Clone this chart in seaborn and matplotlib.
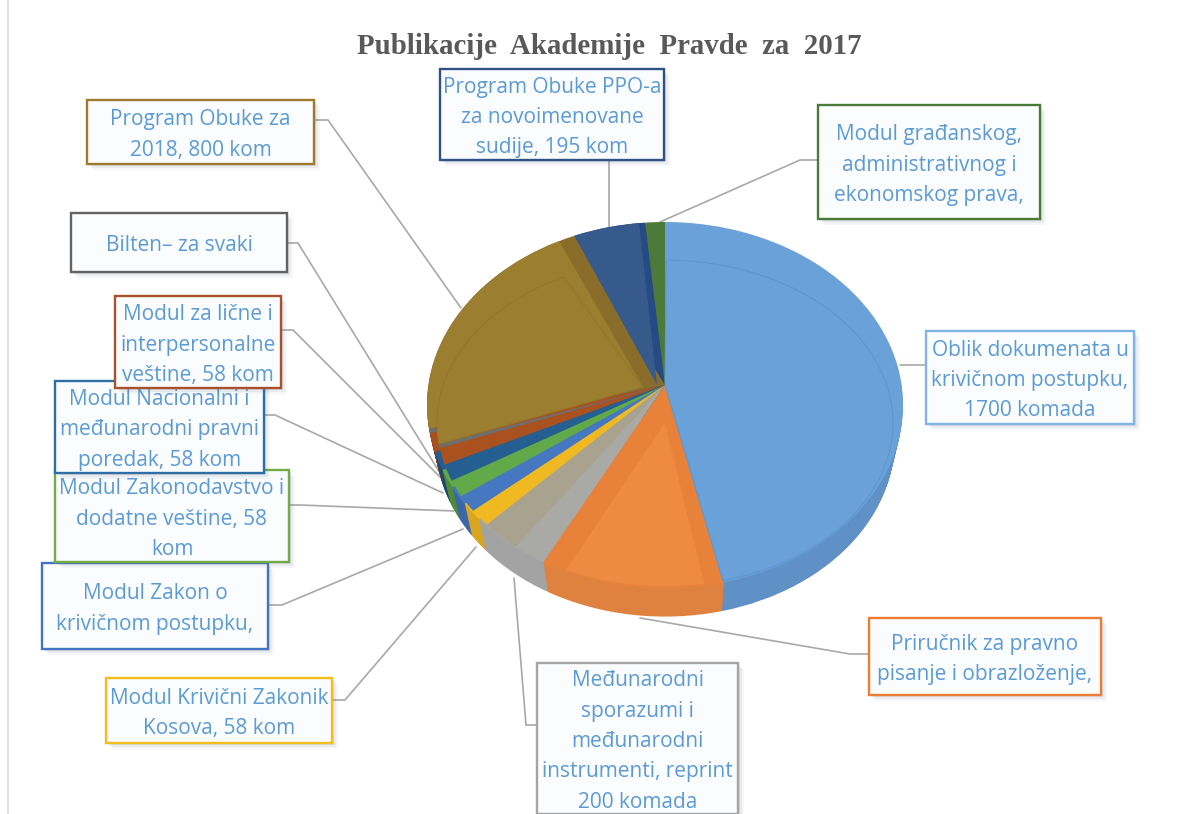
import numpy as np
import matplotlib.pyplot as plt
from matplotlib.patches import Rectangle
import seaborn as sns

title = "Publikacije  Akademije  Pravde  za  2017"

# slices, clockwise from 12 o'clock
slices = ["Oblik", "Prirucnik", "Medjunarodni", "Krivicni", "Zakon", "Zakonodavstvo",
          "Nacionalni", "Licni", "Bilten", "Obuka 2018", "Obuka PPO", "Gradjansko"]
values = [1700, 464, 212, 61, 61, 61, 61, 61, 15, 770, 181, 49]

top_colors = ["#69a1d8", "#e8823a", "#a9a9a6", "#f0b922", "#4678c2", "#62a949",
              "#255e91", "#a9511f", "#6e6e6e", "#8a6d2a", "#264a84", "#4c7a3a"]
inner_colors = ["#69a1d8", "#ef8a43", "#a8a28f", "#f0b922", "#4678c2", "#62a949",
                "#255e91", "#a9511f", "#6e6e6e", "#9c7e30", "#375a8d", "#4c7a3a"]
side_colors = ["#5f90c6", "#e0823f", "#a3a3a3", "#d9a41e", "#3b66a8", "#4f8a3a",
               "#1d4a73", "#8a4219", "#555555", "#7a6123", "#28456f", "#3e6330"]
# panel margins in degrees (clockwise start, clockwise end)
margin_start = [0.3, 4.5, 10, 0, 0, 0, 0, 0, 0, 0, 0, 0]
margin_end = [0.3, 5, 0, 0, 0, 0, 0, 0, 0, 4, 1.5, 0]
# where the panel of each slice narrows to, pixels
inner_apex_x = [665, 665, 665, 665, 665, 665, 665, 665, 665, 643, 657, 665]
inner_apex_y = [385, 423, 385, 385, 385, 385, 385, 385, 385, 387, 385, 385]

box_texts = [
    "Program Obuke za\n2018, 800 kom",
    "Program Obuke PPO-a\nza novoimenovane\nsudije, 195 kom",
    "Modul građanskog,\nadministrativnog i\nekonomskog prava,",
    "Oblik dokumenata u\nkrivičnom postupku,\n1700 komada",
    "Priručnik za pravno\npisanje i obrazloženje,",
    "Međunarodni\nsporazumi i\nmeđunarodni\ninstrumenti, reprint\n200 komada",
    "Modul Krivični Zakonik\nKosova, 58 kom",
    "Modul Zakon o\nkrivičnom postupku,",
    "Modul Zakonodavstvo i\ndodatne veštine, 58\nkom",
    "Modul Nacionalni i\nmeđunarodni pravni\nporedak, 58 kom",
    "Modul za lične i\ninterpersonalne\nveštine, 58 kom",
    "Bilten– za svaki",
]
box_edges = ["#9c7a2e", "#2f5188", "#4c7a3a", "#7fb4e6", "#ed7d31", "#a5a5a5",
             "#f2bd1d", "#4472c4", "#70ad47", "#2f6ea5", "#a9512a", "#636363"]
# left, top, right, bottom in pixels
box_rects = [(87, 100, 314, 164), (440, 69, 664, 160), (818, 105, 1040, 219),
             (926, 331, 1134, 424), (869, 618, 1101, 695), (537, 663, 738, 814),
             (106, 678, 332, 743), (42, 563, 268, 649), (55, 470, 289, 562),
             (55, 381, 264, 473), (115, 296, 281, 388), (71, 213, 287, 272)]
leaders = [
    [(314, 120), (328, 120), (461, 308)],
    [(609, 160), (609, 228)],
    [(818, 160), (800, 160), (660, 222)],
    [(926, 365), (900, 365)],
    [(869, 654), (850, 654), (640, 618)],
    [(537, 725), (526, 725), (514, 578)],
    [(332, 700), (345, 700), (476, 547)],
    [(268, 605), (282, 605), (463, 529)],
    [(289, 505), (300, 505), (454, 511)],
    [(264, 415), (275, 415), (443, 493)],
    [(281, 330), (293, 330), (440, 477)],
    [(287, 243), (298, 243), (440, 473)],
]

W, H = 1194, 814
text_blue = "#5b9bd5"

sns.set_theme(style="white")
plt.rcParams['font.family'] = ['Open Sans', 'DejaVu Sans']

fig = plt.figure(figsize=(W / 100, H / 100), dpi=100, facecolor="white")

# pixel axes for leaders, boxes and text
ax = fig.add_axes([0, 0, 1, 1])
ax.set_xlim(0, W)
ax.set_ylim(H, 0)
ax.axis("off")

ax.plot([8, 8], [0, H], color="#d9d9d9", lw=1.2)
ax.text(609, 46, title, ha="center", va="center", fontsize=20.8, fontweight="bold",
        family="Liberation Serif", color="#595959")

for pts in leaders:
    xs, ys = zip(*pts)
    ax.plot(xs, ys, color="#a8a8a8", lw=1.2, solid_joinstyle="miter")

z = 5
for txt, edge, (x0, y0, x1, y1) in zip(box_texts, box_edges, box_rects):
    # soft shadow
    for off, alpha in [(6, 0.05), (4, 0.08), (2, 0.12)]:
        ax.add_patch(Rectangle((x0 + off, y0 + off), x1 - x0, y1 - y0, fc="#5a6a7a",
                               ec="none", alpha=alpha, zorder=z))
    ax.add_patch(Rectangle((x0, y0), x1 - x0, y1 - y0, fc="#fbfcfd", ec=edge, lw=1.7, zorder=z + 1))
    ax.text((x0 + x1) / 2, (y0 + y1) / 2 + 3, txt, ha="center", va="center", color=text_blue,
            fontsize=15, linespacing=1.58, zorder=z + 2)
    z += 3

# top ellipse centre is below the apex of the slices, like Excel's 3D pie
cx, cy, rx, ry = 665, 405, 238, 183
apex_y = 385
depth = 35


def pie_axes(cx, cy, rx, ry):
    a = fig.add_axes([0, 0, 1, 1], facecolor="none", label=f"pie{rx}")
    return a, ((0 - cx) / rx, (W - cx) / rx), ((cy - H) / ry, cy / ry)


def fix_axes(a, xlim, ylim):
    a.set_aspect("auto")
    a.set_xlim(*xlim)
    a.set_ylim(*ylim)
    a.axis("off")


def move_apex(wedge, center, apex):
    v = wedge.get_path().vertices
    v[np.isclose(v, center).all(axis=1)] = apex


ax_pie, xl, yl = pie_axes(cx, cy, rx, ry)

# side of the disc: stacked pies going down
for k in np.arange(depth, 0, -1):
    ax_pie.pie(values, colors=side_colors, startangle=90, counterclock=False,
               center=(0, -k / ry), radius=1 - 0.035 * k / depth, frame=True,
               wedgeprops=dict(linewidth=0))

wedges = ax_pie.pie(values, colors=top_colors, startangle=90, counterclock=False, frame=True,
                    wedgeprops=dict(linewidth=0))[0]
for w in wedges:
    move_apex(w, (0, 0), (0, (cy - apex_y) / ry))

# gold and navy: lighter face over a dark band along the right edge
faces = ax_pie.pie(values, colors=inner_colors, startangle=90, counterclock=False, frame=True,
                   wedgeprops=dict(linewidth=0))[0]
for i, w in enumerate(faces):
    if i not in (9, 10):
        w.set_visible(False)
        continue
    w.set_theta1(w.theta1 + margin_end[i])
    move_apex(w, (0, 0), ((inner_apex_x[i] - cx) / rx, (cy - inner_apex_y[i]) / ry))
fix_axes(ax_pie, xl, yl)

# inner panel of the other slices (the bevel look)
icy, irx, iry = 423, 228, 163
ax_in, xl2, yl2 = pie_axes(cx, icy, irx, iry)
inner = ax_in.pie(values, colors=inner_colors, startangle=90, counterclock=False, frame=True,
                  wedgeprops=dict(linewidth=0))[0]
for i, w in enumerate(inner):
    if i in (10, 11):
        w.set_visible(False)
        continue
    w.set_theta1(w.theta1 + margin_end[i])
    w.set_theta2(w.theta2 - margin_start[i])
    move_apex(w, (0, 0), ((inner_apex_x[i] - cx) / irx, (icy - inner_apex_y[i]) / iry))
inner[0].set_edgecolor("#5e97d0")
inner[0].set_linewidth(0.8)
inner[9].set_edgecolor("#94772d")
inner[9].set_linewidth(0.8)
fix_axes(ax_in, xl2, yl2)

plt.savefig("out.png", dpi=100)
